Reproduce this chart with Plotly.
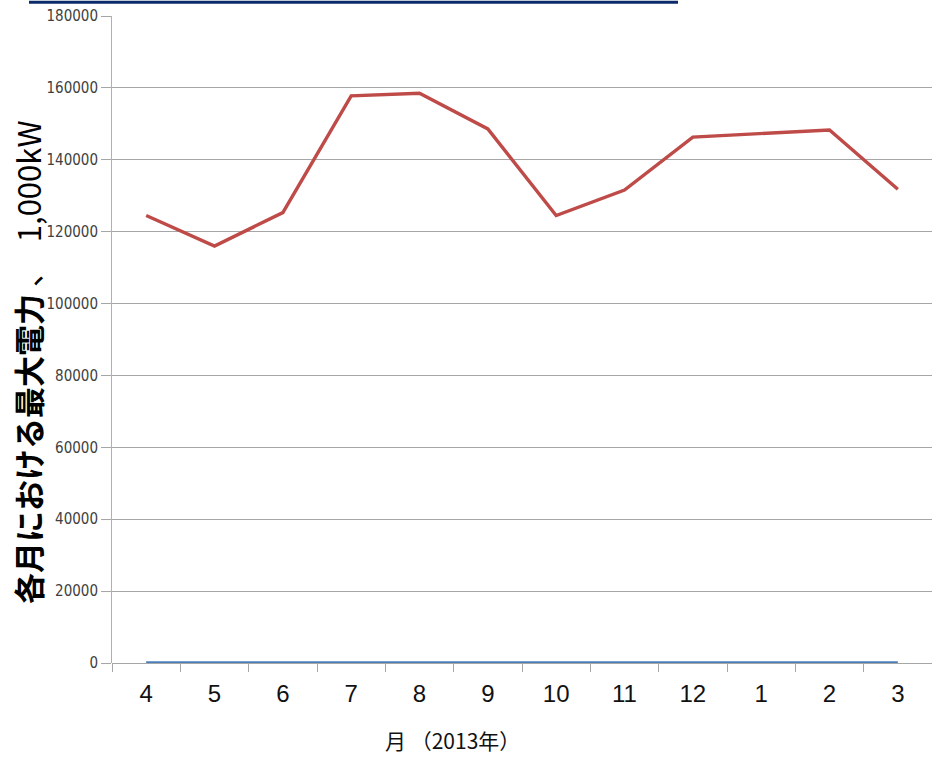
import plotly.graph_objects as go

months = ["4", "5", "6", "7", "8", "9", "10", "11", "12", "1", "2", "3"]
peak_power = [124500, 116000, 125300, 157800, 158500, 148600, 124500, 131600, 146300, 147300, 148300, 131800]
zero_series = [0, 0, 0, 0, 0, 0, 0, 0, 0, 0, 0, 0]
y_ticks = [0, 20000, 40000, 60000, 80000, 100000, 120000, 140000, 160000, 180000]

W, H = 932, 757
L, R, T, B = 112, 0, 16, 94
pw, ph = W - L - R, H - T - B

def px_x(p):
    return (p - L) / pw

def px_y(p):
    return (H - B - p) / ph

fig = go.Figure()
fig.add_trace(go.Scatter(x=months, y=peak_power, mode="lines",
                         line=dict(color="#BE4B48", width=3.4), showlegend=False))
fig.add_trace(go.Scatter(x=months, y=zero_series, mode="lines",
                         line=dict(color="#4A7EBB", width=3.4), showlegend=False))

fig.update_layout(
    width=W, height=H,
    margin=dict(l=L, r=R, t=T, b=B),
    paper_bgcolor="white", plot_bgcolor="white",
    xaxis=dict(
        type="category",
        range=[-0.5, len(months) - 0.5],
        tickson="boundaries",
        ticks="outside", ticklen=8, tickcolor="#a6a6a6", tickwidth=1,
        showgrid=False, showline=False, zeroline=False,
        tickfont=dict(family="Liberation Sans, Arial, sans-serif", size=24, color="#111111"),
        ticklabelstandoff=14,
    ),
    yaxis=dict(
        range=[0, 180000],
        tickvals=y_ticks,
        ticktext=[str(v) for v in y_ticks],
        ticks="outside", ticklen=10, tickcolor="#a6a6a6", tickwidth=1,
        showgrid=True, gridcolor="#a6a6a6", gridwidth=1,
        showline=True, linecolor="#b0b0b0", linewidth=1,
        zeroline=True, zerolinecolor="#a6a6a6", zerolinewidth=1,
        tickfont=dict(family="Liberation Sans Narrow, DejaVu Sans Condensed, Arial Narrow, sans-serif", size=15, color="#404040"),
        automargin=False,
    ),
    shapes=[
        dict(type="rect", xref="paper", yref="paper",
             x0=px_x(29), x1=px_x(678), y0=px_y(3.8), y1=px_y(0.8),
             fillcolor="#0B2A6A", line=dict(width=0), layer="above"),
    ],
    annotations=[
        dict(text="月 （2013年）", xref="paper", yref="paper",
             x=px_x(452), y=px_y(740), xanchor="center", yanchor="middle",
             showarrow=False,
             font=dict(family="Noto Sans CJK JP", size=21, color="#111111")),
        dict(text="<b>各月における最大電力</b> 、  1,000kW", xref="paper", yref="paper",
             x=px_x(27), y=px_y(362), xanchor="center", yanchor="middle",
             textangle=-90, showarrow=False,
             font=dict(family="Noto Sans CJK JP", size=31, color="#000000")),
    ],
)

fig.write_html("out.html", config={"displayModeBar": False},
               post_script="document.body.style.margin='0';")
